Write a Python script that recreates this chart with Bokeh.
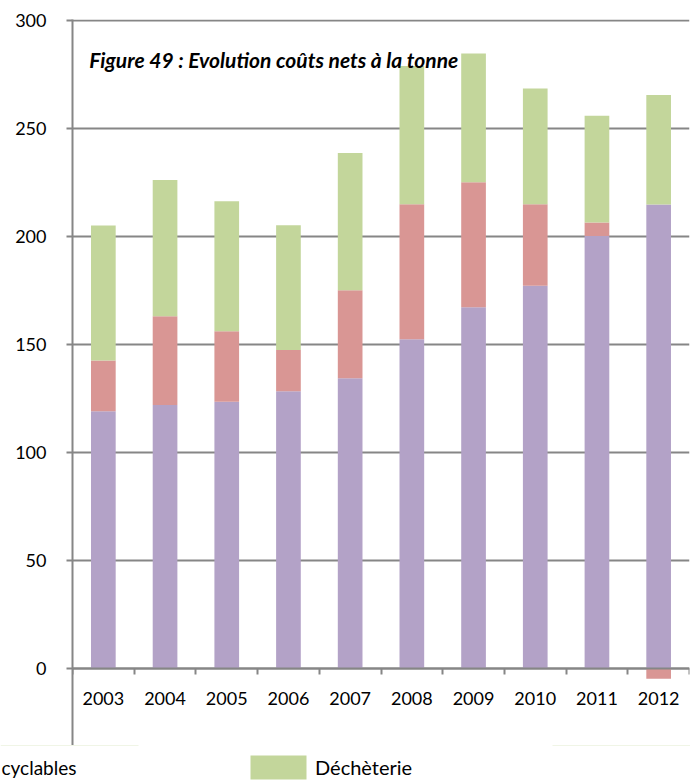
import numpy as np
from bokeh.plotting import figure
from bokeh.layouts import column
from bokeh.models import Range1d, FixedTicker, Label, Legend, LegendItem, ColumnDataSource
from bokeh.embed import file_html
from bokeh.resources import INLINE

# ---- data ----
years = ["2003", "2004", "2005", "2006", "2007", "2008", "2009", "2010", "2011", "2012"]
serie_violette = [119.1, 122.0, 123.5, 128.4, 134.4, 152.5, 167.3, 177.2, 200.3, 214.8]
recyclables = [23.5, 41.1, 32.7, 19.1, 40.7, 62.5, 57.8, 37.8, 6.2, -4.8]
decheterie = [62.5, 63.1, 60.2, 57.7, 63.6, 64.0, 59.6, 53.5, 49.4, 50.8]
y_ticks = [0, 50, 100, 150, 200, 250, 300]
legend_labels = ["cyclables", "Déchèterie"]
title_text = "Figure 49 : Evolution coûts nets à la tonne"

colors = ["#B3A2C7", "#D99694", "#C3D69B"]
series = [serie_violette, recyclables, decheterie]

# Excel-like stacking: positives stack upward, negatives stack downward
n = len(years)
xs = np.arange(n)
pos = np.zeros(n)
neg = np.zeros(n)
sources = []
for vals in series:
    v = np.array(vals, dtype=float)
    bottom = np.where(v >= 0, pos, neg)
    top = bottom + v
    pos = np.where(v >= 0, top, pos)
    neg = np.where(v < 0, top, neg)
    sources.append(ColumnDataSource(dict(x=xs, bottom=bottom, top=top)))

GRAY = "#868686"
FONT = "Lato"

p = figure(width=690, height=745,
           x_range=Range1d(-0.5, n - 0.5), y_range=Range1d(-35.65, 300.5),
           output_backend="svg", toolbar_location=None,
           min_border_left=72, min_border_right=1, min_border_top=19, min_border_bottom=0)
p.frame_align = False
p.outline_line_color = None
p.background_fill_color = "white"
p.border_fill_color = "white"

for src, c in zip(sources, colors):
    p.vbar(x="x", bottom="bottom", top="top", width=0.4, source=src,
           fill_color=c, line_color=None)

# x axis (crossing at y = 0), ticks between categories
xa = p.xaxis[0]
xa.ticker = FixedTicker(ticks=list(range(n)), minor_ticks=[i - 0.5 for i in range(n + 1)])
xa.major_label_overrides = {i: y for i, y in enumerate(years)}
xa.fixed_location = 0
xa.major_tick_out = 0
xa.major_tick_in = 0
xa.minor_tick_out = 6
xa.minor_tick_in = 0
xa.minor_tick_line_color = GRAY
xa.minor_tick_line_width = 2
xa.axis_line_color = GRAY
xa.axis_line_width = 2
xa.major_label_standoff = 17
xa.major_label_text_font = FONT
xa.major_label_text_font_size = "18px"
xa.major_label_text_color = "#000000"

ya = p.yaxis[0]
ya.ticker = FixedTicker(ticks=y_ticks)
ya.major_tick_out = 6
ya.major_tick_in = 0
ya.major_tick_line_color = GRAY
ya.major_tick_line_width = 2
ya.minor_tick_line_color = None
ya.axis_line_color = GRAY
ya.axis_line_width = 2
ya.major_label_standoff = 20
ya.major_label_text_font = FONT
ya.major_label_text_font_size = "18px"
ya.major_label_text_color = "#000000"

p.xgrid.visible = False
p.ygrid.grid_line_color = GRAY
p.ygrid.grid_line_width = 2

p.add_layout(Label(x=-0.23, y=282, text=title_text, text_font=FONT, text_font_size="21px",
                   text_font_style="bold italic", text_color="#000000",
                   text_baseline="alphabetic"))

# legend strip below the chart
q = figure(width=690, height=37, x_range=Range1d(0, 1), y_range=Range1d(0, 1),
           output_backend="svg", toolbar_location=None, x_axis_type=None, y_axis_type=None,
           min_border_left=0, min_border_right=0, min_border_top=0, min_border_bottom=0)
q.frame_align = False
q.outline_line_color = None
q.grid.visible = False
# same data as the chart; nothing of it falls inside this strip's ranges
r_green = q.vbar(x="x", bottom="bottom", top="top", width=0.4, source=sources[2],
                 fill_color=colors[2], line_color=None)
legend = Legend(items=[LegendItem(label=legend_labels[1], renderers=[r_green])],
                location=(243, 0), orientation="horizontal",
                glyph_width=70, glyph_height=30, label_standoff=2,
                padding=0, margin=0, border_line_color=None, background_fill_alpha=0,
                label_text_font=FONT, label_text_font_size="20px", label_text_color="#000000")
q.add_layout(legend, "center")
q.add_layout(Label(x=1, y=15, x_units="screen", y_units="screen", text=legend_labels[0],
                   text_font=FONT, text_font_size="19px", text_color="#000000",
                   text_baseline="middle"))

open("out.html", "w").write(file_html(column(p, q, spacing=0), INLINE))
